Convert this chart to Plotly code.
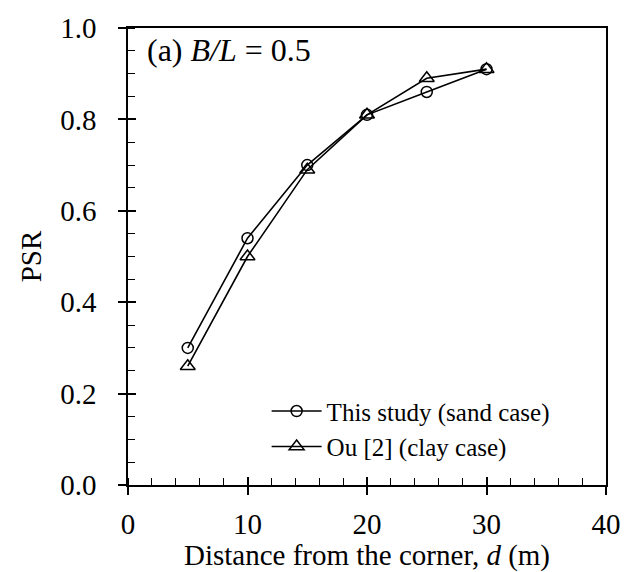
import plotly.graph_objects as go

distance = [5, 10, 15, 20, 25, 30]
psr_sand = [0.30, 0.54, 0.70, 0.81, 0.86, 0.91]
psr_clay = [0.26, 0.50, 0.69, 0.81, 0.89, 0.91]
x_ticks = [0, 10, 20, 30, 40]
y_ticks = [0.0, 0.2, 0.4, 0.6, 0.8, 1.0]

FONT = "Liberation Serif"
FS = 29

fig = go.Figure()
fig.add_trace(go.Scatter(
    x=distance, y=psr_sand, mode="lines+markers", name="This study (sand case)",
    line=dict(color="black", width=1.6),
    marker=dict(symbol="circle-open", size=11, color="black", line=dict(width=1.5)),
))
fig.add_trace(go.Scatter(
    x=distance, y=psr_clay, mode="lines+markers", name="Ou [2] (clay case)",
    line=dict(color="black", width=1.6),
    marker=dict(symbol="triangle-up-open", size=13, color="black", line=dict(width=1.5)),
))
# invisible trace to anchor the overlay axes (inside half of major ticks)
fig.add_trace(go.Scatter(x=[None], y=[None], xaxis="x2", yaxis="y2", showlegend=False, hoverinfo="skip"))

axis_common = dict(
    showline=True, linecolor="black", linewidth=1.6, mirror=True,
    showgrid=False, zeroline=False,
    ticks="outside", ticklen=8, tickwidth=1.6, tickcolor="black",
    tickfont=dict(family=FONT, size=FS, color="black"),
)

fig.update_layout(
    xaxis=dict(
        range=[0, 40], tickvals=x_ticks, ticktext=[str(v) for v in x_ticks],
        title=dict(text="Distance from the corner, <i>d</i> (m)", font=dict(family=FONT, size=FS, color="black"), standoff=0),
        minor=dict(dtick=2, ticks="inside", ticklen=7, tickwidth=1.4, tickcolor="black"),
        ticklabelstandoff=4,
        **axis_common,
    ),
    yaxis=dict(
        range=[0, 1.0], tickvals=y_ticks, ticktext=[f"{v:.1f}" for v in y_ticks],
        title=dict(text="PSR", font=dict(family=FONT, size=FS, color="black"), standoff=10),
        minor=dict(dtick=0.05, ticks="inside", ticklen=7, tickwidth=1.4, tickcolor="black"),
        ticklabelstandoff=16,
        **axis_common,
    ),
    xaxis2=dict(
        overlaying="x", anchor="y", side="bottom", range=[0, 40], tickvals=x_ticks,
        ticks="inside", ticklen=8, tickwidth=1.6, tickcolor="black",
        showticklabels=False, showline=False, showgrid=False, zeroline=False,
    ),
    yaxis2=dict(
        overlaying="y", anchor="x", side="left", range=[0, 1.0], tickvals=y_ticks,
        ticks="inside", ticklen=8, tickwidth=1.6, tickcolor="black",
        showticklabels=False, showline=False, showgrid=False, zeroline=False,
    ),
)

fig.add_annotation(
    x=0.036, y=0.995, xref="paper", yref="paper", xanchor="left", yanchor="top",
    text="(a) <i>B/L</i> = 0.5", showarrow=False,
    font=dict(family=FONT, size=32, color="black"),
)

fig.update_layout(
    width=633, height=572,
    margin=dict(l=128, r=16, t=24, b=81),
    paper_bgcolor="white", plot_bgcolor="white",
    showlegend=True,
    legend=dict(
        x=0.29, y=0.123, xanchor="left", yanchor="middle",
        font=dict(family=FONT, size=25, color="black"),
        bgcolor="rgba(0,0,0,0)", itemwidth=50, tracegroupgap=0,
    ),
    font=dict(family=FONT, color="black"),
)

fig.write_html("out.html")
